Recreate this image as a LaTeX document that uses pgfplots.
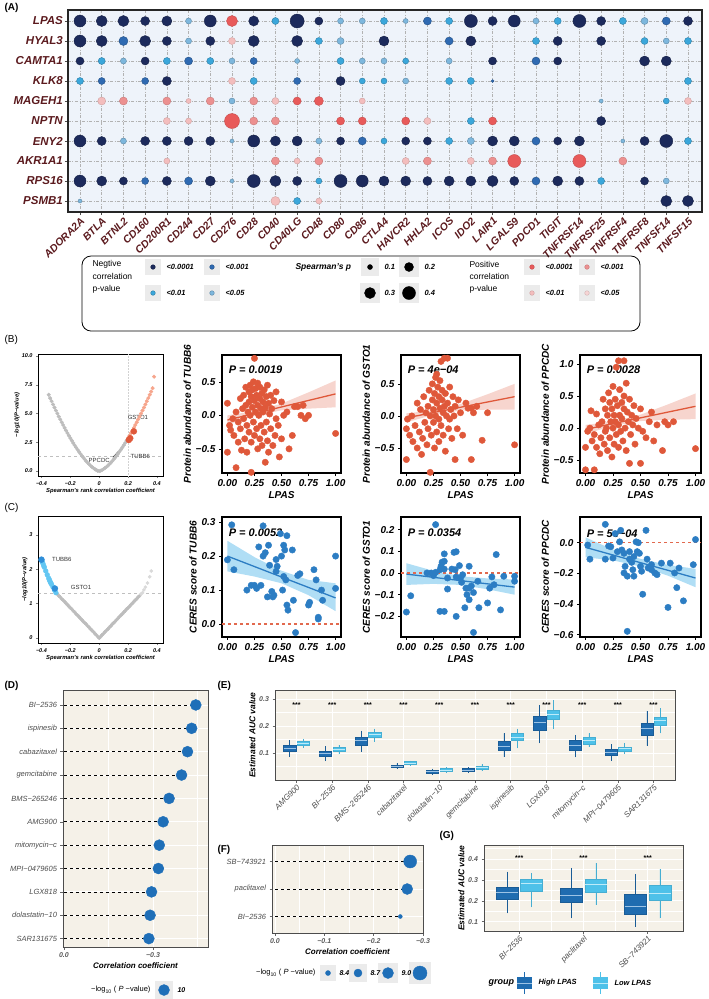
\documentclass[border=0pt]{standalone}
\usepackage{pgfplots}
\pgfplotsset{compat=1.18}
\usepgfplotslibrary{statistics}
\usepackage{fontspec}
\setmainfont{Liberation Sans}
\newcommand{\fs}[1]{\fontsize{#1}{#1}\selectfont}
\definecolor{N1}{HTML}{1C2A5C}
\definecolor{N2}{HTML}{2F6AB2}
\definecolor{N3}{HTML}{3BA7DB}
\definecolor{N4}{HTML}{7DB7DD}
\definecolor{P1}{HTML}{E85A5A}
\definecolor{P2}{HTML}{EC9090}
\definecolor{P3}{HTML}{F3BDBD}
\definecolor{P4}{HTML}{F6D4D4}
\definecolor{bgA}{HTML}{EEF3FA}
\definecolor{labR}{HTML}{5B1A1E}
\definecolor{bOr}{HTML}{DF583A}
\definecolor{cBl}{HTML}{2C7DC3}
\definecolor{cBand}{HTML}{7CC8EE}
\definecolor{vGray}{HTML}{BDBDBD}
\definecolor{vSal}{HTML}{F6A58C}
\definecolor{vLB}{HTML}{62C6F2}
\definecolor{vDB}{HTML}{2F8ED8}
\definecolor{bgB}{HTML}{F5F1E8}
\definecolor{dBl}{HTML}{1F6FB8}
\definecolor{HiB}{HTML}{1F6CB0}
\definecolor{HiM}{HTML}{9CC3E6}
\definecolor{LoB}{HTML}{4EC1E9}
\definecolor{LoM}{HTML}{BDEBF9}
\definecolor{keyg}{HTML}{EBEBEB}
\pgfplotsset{
  /pgf/number format/assume math mode=true,
  dotA/.style={scatter, only marks, mark=*, scatter src=explicit symbolic,
    scatter/classes={N1={mark=*,fill=N1,draw=N1!75!black}, N2={mark=*,fill=N2,draw=N2!75!black},
      N3={mark=*,fill=N3,draw=N3!75!black}, N4={mark=*,fill=N4,draw=N4!75!black},
      P1={mark=*,fill=P1,draw=P1!85!black}, P2={mark=*,fill=P2,draw=P2!85!black},
      P3={mark=*,fill=P3,draw=P3!85!black}, P4={mark=*,fill=P4,draw=P4!85!black},
      K={mark=*,fill=black,draw=black}, D={mark=*,fill=dBl,draw=dBl}},
    visualization depends on={\thisrow{s}\as\msz},
    scatter/@pre marker code/.append style={/tikz/mark size=\msz, /tikz/line width=0.3pt}},
  sc/.style={anchor=north west, scale only axis, axis line style={line width=1.4pt},
    xmin=-0.05, xmax=1.05, xtick={0,0.25,0.5,0.75,1}, xticklabels={0.00,0.25,0.50,0.75,1.00},
    tick align=outside, tick pos=left, major tick length=3pt, tick style={black, line width=0.6pt},
    ticklabel style={font=\fs{10}\bfseries\itshape}, xlabel={LPAS},
    label style={font=\fs{10}\bfseries\itshape}, xlabel style={yshift=2pt}, ylabel style={yshift=-2pt}},
  vc/.style={anchor=north west, scale only axis, width=125pt, axis line style={line width=0.6pt},
    xmin=-0.424, xmax=0.442, xtick={-0.4,-0.2,0,0.2,0.4}, xticklabels={−0.4,−0.2,0,0.2,0.4},
    tick align=outside, tick pos=left, major tick length=2pt, tick style={line width=0.4pt},
    ticklabel style={font=\fs{5.5}\bfseries\itshape}, label style={font=\fs{5.8}\bfseries\itshape},
    xlabel={Spearman's rank correlation coefficient}, ylabel={−log10(P−value)},
    xlabel style={yshift=4pt}, ylabel style={yshift=-5pt}},
  gg/.style={anchor=north west, scale only axis, axis background/.style={fill=bgB},
    axis line style={black!70, line width=0.7pt}, tick align=outside, tick pos=left,
    major tick length=2.5pt, minor tick length=0pt, tick style={black!60, line width=0.5pt},
    ticklabel style={font=\fs{7}\bfseries\itshape, text=black!65},
    label style={font=\fs{8}\bfseries\itshape}, grid=both,
    major grid style={white, line width=0.8pt}, minor grid style={white, line width=0.4pt}},
  hi/.style={draw=HiB!85!black, fill=HiB, boxplot/every median/.style={draw=HiM, line width=0.8pt}},
  lo/.style={draw=LoB!90!black, fill=LoB, boxplot/every median/.style={draw=LoM, line width=0.8pt}},
}
\begin{document}
\begin{tikzpicture}
\useasboundingbox (0pt,0pt) rectangle (709pt,-999pt);

% ================= Panel A
\begin{axis}[at={(68pt,-10pt)}, anchor=north west, scale only axis, width=634pt, height=202pt,
  xmin=-0.553, xmax=28.645, ymin=-0.55, ymax=9.55, y dir=reverse,
  axis background/.style={fill=bgA}, axis line style={line width=1.2pt, black!85},
  xtick={0,...,28}, ytick={0,...,9}, tick pos=left, tick align=outside, major tick length=3pt,
  tick style={black!70, line width=0.5pt},
  xticklabels={ADORA2A,BTLA,BTNL2,CD160,CD200R1,CD244,CD27,CD276,CD28,CD40,CD40LG,CD48,CD80,CD86,CTLA4,HAVCR2,HHLA2,ICOS,IDO2,LAIR1,LGALS9,PDCD1,TIGIT,TNFRSF14,TNFRSF25,TNFRSF4,TNFRSF8,TNFSF14,TNFSF15},
  yticklabels={LPAS,HYAL3,CAMTA1,KLK8,MAGEH1,NPTN,ENY2,AKR1A1,RPS16,PSMB1},
  xticklabel style={rotate=45, anchor=north east, font=\fs{10.5}\bfseries\itshape, text=labR, inner sep=1pt},
  yticklabel style={font=\fs{11.5}\bfseries\itshape, text=labR, inner sep=2pt},
  grid=major, major grid style={black!30, line width=0.45pt, dash pattern=on 3pt off 1.5pt on 1pt off 1.5pt}]
\addplot[dotA] table[x=x,y=y,meta=c] {
x y s c
0 0 6 N1
1 0 5.5 N1
2 0 5.5 N1
3 0 4.5 N1
4 0 5 N1
5 0 3 N4
6 0 6 N1
7 0 5.5 P1
8 0 5 N1
9 0 3.5 N3
10 0 7 N1
11 0 4 N1
12 0 3 N4
13 0 3 N4
14 0 3.5 N3
15 0 2.5 N4
16 0 4 N2
17 0 3.5 N3
18 0 6.5 N1
19 0 4.5 N1
20 0 6 N1
21 0 3 N4
22 0 3.5 N3
23 0 6.5 N1
24 0 4.5 N1
25 0 3.5 N3
26 0 3.5 N4
27 0 4 N2
28 0 4.5 N1
0 1 6 N1
1 1 5.5 N1
2 1 4.5 N2
3 1 5.5 N1
4 1 4.5 N1
5 1 3 N4
6 1 4.5 N1
7 1 3.5 P3
8 1 5.5 N1
10 1 5.5 N1
11 1 3.5 N3
12 1 3.5 N4
14 1 5 N1
17 1 4 N2
18 1 5 N1
21 1 3.5 N3
22 1 4.5 N1
24 1 4.5 N1
26 1 3.5 N3
27 1 3 N4
28 1 3.5 N3
0 2 4 N1
1 2 3.5 N3
2 2 3 N4
3 2 4 N1
4 2 3.5 N3
5 2 4 N2
6 2 3.5 N3
7 2 3 N4
8 2 3.5 N2
10 2 2.5 N4
12 2 3.5 N3
13 2 3 N4
14 2 3 N4
15 2 3 N3
17 2 3 N4
19 2 4 N1
21 2 4 N2
22 2 4 N1
26 2 5 N1
27 2 5 N1
0 3 3.5 N3
1 3 3.5 N2
3 3 3.5 N2
4 3 4.5 N1
7 3 3.5 P3
8 3 3.5 N3
10 3 3.5 N2
12 3 4.5 N1
13 3 3 N3
14 3 3 N3
15 3 3 N4
17 3 3.5 N3
18 3 3.5 N3
19 3 1.5 N2
28 3 3.5 N3
1 4 4 P3
2 4 4 P2
4 4 4 P2
5 4 2.5 P3
6 4 4 P2
7 4 3 N4
8 4 4 P2
9 4 3.5 P3
10 4 4 P1
11 4 4.5 P1
13 4 3 P3
24 4 2 N4
27 4 3 N3
28 4 3.5 P3
4 5 3.5 P3
5 5 3 P3
7 5 7.5 P1
8 5 4 P2
9 5 4 P2
12 5 4 P1
13 5 4 P1
15 5 4 P1
16 5 3.5 P3
18 5 3.5 N3
19 5 4 P1
24 5 4.5 N1
0 6 6 N1
1 6 4.5 N1
2 6 3 N4
3 6 4.5 N1
4 6 4.5 N1
5 6 4.5 N1
6 6 4.5 N1
7 6 2 N4
8 6 6 N1
9 6 5 N1
10 6 5 N1
11 6 3 N4
12 6 4 N1
13 6 4 N2
14 6 3 N3
15 6 4 N1
16 6 4 N1
17 6 3.5 N3
18 6 3.5 N4
19 6 5 N1
20 6 5 N1
21 6 4 N2
22 6 4 N1
23 6 5 N1
25 6 2 N4
26 6 4.5 N1
27 6 6.5 N1
28 6 3.5 N3
4 7 3 P3
9 7 4 P2
10 7 3 P3
11 7 4 P2
15 7 3.5 P3
16 7 4 P2
18 7 3.5 P3
19 7 4 P2
20 7 6.5 P1
23 7 6.5 P1
25 7 4 P2
0 8 6 N1
1 8 5 N1
2 8 4 N1
3 8 3.5 N2
4 8 4.5 N1
5 8 4 N2
6 8 5 N1
7 8 2 N4
8 8 6.5 N1
9 8 5.5 N1
10 8 4.5 N1
11 8 3 N3
12 8 6.5 N1
13 8 6 N1
14 8 5 N1
15 8 5 N1
16 8 4.5 N1
17 8 5 N1
18 8 5 N1
19 8 5.5 N1
20 8 4.5 N1
21 8 4 N2
22 8 5 N1
23 8 4.5 N1
24 8 3.5 N3
26 8 4 N1
27 8 3 N4
0 9 2 N4
9 9 4.5 P3
10 9 3.5 N3
11 9 3 P3
27 9 5.5 N1
28 9 5.5 N1
};
\end{axis}

% ================= Panel B volcano
\begin{axis}[vc, at={(38pt,-354pt)}, height=122pt, ymin=-0.43, ymax=10.17,
  ytick={0,2.5,5,7.5,10}, yticklabels={0.0,2.5,5.0,7.5,10.0}]
\addplot[gray!50, dashed, line width=0.6pt] coordinates {(-0.424,1.3) (0.442,1.3)};
\addplot[gray!35, densely dotted, line width=0.5pt] coordinates {(0.2,-0.43) (0.2,10.17)};
\addplot[only marks, mark=*, mark size=1.8pt, vGray] coordinates {
(-0.35,6.63) (-0.34,6.34) (-0.33,6.07) (-0.32,5.79) (-0.31,5.52) (-0.30,5.26) (-0.29,5.00) (-0.28,4.74)
(-0.27,4.49) (-0.26,4.24) (-0.25,4.00) (-0.24,3.76) (-0.23,3.53) (-0.22,3.30) (-0.21,3.08) (-0.20,2.86)
(-0.19,2.65) (-0.18,2.44) (-0.17,2.24) (-0.16,2.05) (-0.15,1.86) (-0.14,1.68) (-0.13,1.50) (-0.12,1.33)
(-0.11,1.17) (-0.10,1.01) (-0.09,0.86) (-0.08,0.72) (-0.07,0.59) (-0.06,0.47) (-0.05,0.36) (-0.04,0.26)
(-0.03,0.17) (-0.02,0.09) (-0.01,0.03) (0,0) (0.01,0.03) (0.02,0.09) (0.03,0.17) (0.04,0.26) (0.05,0.36)
(0.06,0.47) (0.07,0.59) (0.08,0.72) (0.09,0.86) (0.10,1.01) (0.11,1.17) (0.12,1.33) (0.13,1.50)
(0.14,1.68) (0.15,1.86) (0.16,2.05) (0.17,2.24) (0.18,2.44) (0.19,2.65)};
\addplot[only marks, mark=*, mark size=1.8pt, vSal] coordinates {
(0.20,2.86) (0.21,3.08) (0.22,3.30) (0.23,3.53) (0.24,3.76) (0.25,4.00) (0.26,4.24) (0.27,4.49)
(0.28,4.74) (0.29,5.00) (0.30,5.26) (0.31,5.52) (0.32,5.79) (0.33,6.07) (0.34,6.34) (0.35,6.63)
(0.36,6.91) (0.37,7.20) (0.38,8.20)};
\addplot[only marks, mark=*, mark size=3pt, bOr] coordinates {(0.205,2.70) (0.215,2.85) (0.24,3.45)};
\addplot[black, line width=0.5pt] coordinates {(0.095,1.2) (0.135,1.75)};
\node[font=\fs{6}, text=black!80] at (axis cs:0.268,4.63) {GSTO1};
\node[font=\fs{6}, text=black!80] at (axis cs:0.285,1.3) {TUBB6};
\node[font=\fs{6}, text=black!80] at (axis cs:0.0,0.95) {PPCDC};
\end{axis}

% ================= Panel B scatters
\begin{axis}[sc, at={(222pt,-355pt)}, width=119pt, height=118pt, ymin=-0.86, ymax=0.9,
  ytick={-0.5,0,0.5}, yticklabels={−0.5,0.0,0.5}, ylabel={Protein abundance of TUBB6}]
\addplot[only marks, mark=*, mark size=3.2pt, bOr] coordinates {
(0.00,0.18)(0.00,-0.55)(0.02,-0.15)(0.03,-0.22)(0.05,-0.05)(0.06,-0.3)(0.08,-0.78)(0.08,0.05)(0.10,-0.1)(0.10,-0.4)
(0.12,0.25)(0.12,-0.2)(0.13,-0.52)(0.14,0.1)(0.15,0.3)(0.15,-0.05)(0.16,-0.35)(0.17,0.42)(0.17,0.15)(0.18,-0.15)
(0.18,-0.55)(0.19,0.05)(0.2,0.35)(0.2,0.2)(0.2,-0.25)(0.21,0.45)(0.21,0.0)(0.22,-0.85)(0.22,0.28)(0.22,-0.4)
(0.23,0.12)(0.23,0.38)(0.24,-0.1)(0.24,0.5)(0.25,0.85)(0.25,0.22)(0.25,-0.3)(0.26,0.05)(0.26,0.4)(0.27,0.3)
(0.27,-0.2)(0.28,0.15)(0.28,0.48)(0.28,-0.5)(0.29,0.0)(0.3,0.25)(0.3,-0.35)(0.3,0.42)(0.31,0.1)(0.31,-0.15)
(0.32,0.33)(0.32,-0.45)(0.33,0.2)(0.33,0.05)(0.34,-0.25)(0.34,0.38)(0.35,-0.7)(0.35,0.12)(0.36,0.28)(0.36,-0.1)
(0.37,0.45)(0.37,-0.38)(0.38,0.18)(0.38,-0.55)(0.39,0.02)(0.4,0.3)(0.4,-0.2)(0.41,0.1)(0.42,-0.45)(0.43,0.22)
(0.44,-0.3)(0.45,0.35)(0.45,-0.05)(0.47,-0.15)(0.48,-0.62)(0.5,0.2)(0.5,-0.35)(0.52,0.0)(0.55,0.05)(0.57,-0.5)
(0.6,-0.3)(0.62,0.13)(0.65,0.13)(0.68,0.0)(0.7,0.15)(0.72,-0.05)(0.75,0.0)(1.0,-0.27)};
\addplot[fill=bOr, fill opacity=0.25, draw=none] coordinates {(0,0.0) (0.25,0.063) (0.5,0.175) (0.75,0.343) (1,0.52) (1,0.12) (0.75,0.1) (0.5,0.075) (0.25,-0.008) (0,-0.14)};
\addplot[bOr, line width=1.3pt] coordinates {(0,-0.07) (1,0.32)};
\node[anchor=west, font=\fs{11}\bfseries\itshape] at (axis cs:-0.02,0.68) {P = 0.0019};
\end{axis}

\begin{axis}[sc, at={(401pt,-355pt)}, width=119pt, height=118pt, ymin=-0.89, ymax=0.95,
  ytick={-0.5,0,0.5}, yticklabels={−0.5,0.0,0.5}, ylabel={Protein abundance of GSTO1}]
\addplot[only marks, mark=*, mark size=3.2pt, bOr] coordinates {
(0.00,-0.2)(0.00,-0.68)(0.01,-0.05)(0.03,-0.3)(0.05,0.0)(0.06,-0.4)(0.08,-0.15)(0.1,0.2)(0.1,-0.5)(0.12,-0.25)
(0.13,0.1)(0.14,-0.6)(0.15,-0.35)(0.16,0.3)(0.17,-0.1)(0.18,0.05)(0.19,-0.45)(0.2,0.15)(0.2,-0.2)(0.21,0.4)
(0.22,-0.88)(0.22,0.0)(0.23,-0.3)(0.24,0.25)(0.24,0.5)(0.25,-0.1)(0.25,0.1)(0.26,-0.5)(0.26,0.35)(0.27,0.6)
(0.27,0.0)(0.28,0.65)(0.28,-0.25)(0.28,0.2)(0.29,0.45)(0.3,-0.05)(0.3,0.3)(0.3,-0.4)(0.31,0.12)(0.31,0.55)
(0.32,0.85)(0.32,-0.15)(0.33,0.25)(0.33,0.4)(0.34,-0.3)(0.34,0.05)(0.35,0.9)(0.35,0.15)(0.36,-0.55)(0.36,0.35)
(0.37,0.0)(0.38,0.9)(0.38,0.2)(0.39,-0.2)(0.4,0.45)(0.4,-0.05)(0.41,0.1)(0.42,-0.35)(0.43,0.3)(0.44,0.0)
(0.45,-0.68)(0.45,0.15)(0.47,-0.2)(0.48,0.25)(0.5,0.05)(0.52,-0.3)(0.55,0.2)(0.57,0.12)(0.6,0.12)(0.6,-0.68)
(0.62,0.05)(0.65,0.15)(0.7,-0.38)(0.75,0.05)(1.0,-0.45)};
\addplot[fill=bOr, fill opacity=0.25, draw=none] coordinates {(0,0.04) (0.25,0.088) (0.5,0.185) (0.75,0.338) (1,0.5) (1,0.1) (0.75,0.098) (0.5,0.085) (0.25,0.018) (0,-0.1)};
\addplot[bOr, line width=1.3pt] coordinates {(0,-0.03) (1,0.30)};
\node[anchor=west, font=\fs{11}\bfseries\itshape] at (axis cs:-0.02,0.72) {P = 4e−04};
\end{axis}

\begin{axis}[sc, at={(580pt,-355pt)}, width=121pt, height=118pt, ymin=-0.7, ymax=1.14,
  ytick={-0.5,0,0.5,1}, yticklabels={−0.5,0.0,0.5,1.0}, ylabel={Protein abundance of PPCDC}]
\addplot[only marks, mark=*, mark size=3.2pt, bOr] coordinates {
(0.00,-0.65)(0.00,-0.3)(0.02,-0.05)(0.04,0.0)(0.05,0.27)(0.06,-0.2)(0.08,-0.65)(0.08,-0.1)(0.1,0.22)(0.1,-0.3)
(0.12,0.05)(0.13,-0.4)(0.14,-0.15)(0.15,0.1)(0.16,0.45)(0.17,-0.25)(0.18,0.3)(0.18,-0.05)(0.19,0.0)(0.2,0.2)
(0.2,-0.35)(0.21,0.55)(0.22,-0.15)(0.22,0.4)(0.23,0.1)(0.24,-0.45)(0.24,0.3)(0.25,0.65)(0.25,0.0)(0.26,0.2)
(0.26,-0.25)(0.27,0.45)(0.27,0.1)(0.28,0.95)(0.28,-0.1)(0.29,0.35)(0.3,1.05)(0.3,0.05)(0.3,-0.3)(0.31,0.6)
(0.31,0.2)(0.32,-0.05)(0.33,0.4)(0.33,0.15)(0.34,-0.2)(0.35,1.05)(0.35,0.3)(0.35,0.5)(0.36,0.0)(0.37,0.7)
(0.37,-0.35)(0.38,0.25)(0.39,0.1)(0.4,-0.55)(0.4,0.45)(0.41,-0.1)(0.42,0.2)(0.43,0.05)(0.44,0.35)(0.45,-0.25)
(0.46,0.15)(0.48,0.0)(0.5,-0.55)(0.5,0.3)(0.52,-0.05)(0.55,-0.15)(0.58,0.1)(0.6,0.25)(0.62,-0.2)(0.65,0.05)
(0.7,-0.35)(0.72,0.1)(0.75,0.05)(0.8,0.1)(1.0,-0.32)};
\addplot[fill=bOr, fill opacity=0.25, draw=none] coordinates {(0,0.05) (0.25,0.105) (0.5,0.21) (0.75,0.37) (1,0.54) (1,0.14) (0.75,0.13) (0.5,0.11) (0.25,0.035) (0,-0.09)};
\addplot[bOr, line width=1.3pt] coordinates {(0,-0.02) (1,0.34)};
\node[anchor=west, font=\fs{11}\bfseries\itshape] at (axis cs:-0.02,0.91) {P = 0.0028};
\end{axis}

% ================= Panel C volcano
\begin{axis}[vc, at={(38pt,-516pt)}, height=127pt, ymin=-0.145, ymax=3.55,
  ytick={0,1,2,3}, yticklabels={0,1,2,3}]
\addplot[gray!50, dashed, line width=0.6pt] coordinates {(-0.424,1.3) (0.442,1.3)};
\addplot[only marks, mark=*, mark size=1.8pt, vGray] coordinates {
(-0.29,1.28) (-0.28,1.23) (-0.27,1.19) (-0.26,1.14) (-0.25,1.10) (-0.24,1.06) (-0.23,1.01) (-0.22,0.97)
(-0.21,0.92) (-0.20,0.88) (-0.19,0.84) (-0.18,0.79) (-0.17,0.75) (-0.16,0.70) (-0.15,0.66) (-0.14,0.62)
(-0.13,0.57) (-0.12,0.53) (-0.11,0.48) (-0.10,0.44) (-0.09,0.40) (-0.08,0.35) (-0.07,0.31) (-0.06,0.26)
(-0.05,0.22) (-0.04,0.18) (-0.03,0.13) (-0.02,0.09) (-0.01,0.04) (0,0) (0.01,0.04) (0.02,0.09) (0.03,0.13)
(0.04,0.18) (0.05,0.22) (0.06,0.26) (0.07,0.31) (0.08,0.35) (0.09,0.40) (0.10,0.44) (0.11,0.48) (0.12,0.53)
(0.13,0.57) (0.14,0.62) (0.15,0.66) (0.16,0.70) (0.17,0.75) (0.18,0.79) (0.19,0.84) (0.20,0.88) (0.21,0.92)
(0.22,0.97) (0.23,1.01) (0.24,1.06) (0.25,1.10) (0.26,1.14) (0.27,1.19) (0.28,1.23)};
\addplot[only marks, mark=*, mark size=1.6pt, gray!30] coordinates {
(0.29,1.28) (0.30,1.32) (0.31,1.40) (0.32,1.48) (0.335,1.60) (0.35,1.78) (0.36,1.95)};
\addplot[only marks, mark=*, mark size=2.4pt, vLB] coordinates {
(-0.395,2.22) (-0.39,2.17) (-0.385,2.11) (-0.38,2.06) (-0.37,1.95) (-0.36,1.84) (-0.35,1.74) (-0.345,1.69)
(-0.34,1.64) (-0.335,1.60) (-0.33,1.56) (-0.32,1.48) (-0.31,1.40) (-0.30,1.32)};
\addplot[only marks, mark=*, mark size=3pt, vDB] coordinates {(-0.40,2.28) (-0.307,1.44)};
\node[anchor=west, font=\fs{6}, text=black!80] at (axis cs:-0.35,2.3) {TUBB6};
\node[anchor=west, font=\fs{6}, text=black!80] at (axis cs:-0.22,1.46) {GSTO1};
\end{axis}

% ================= Panel C scatters
\begin{axis}[sc, at={(222pt,-517pt)}, width=119pt, height=120pt, ymin=-0.038, ymax=0.315,
  ytick={0,0.1,0.2,0.3}, yticklabels={0.0,0.1,0.2,0.3}, ylabel={CERES score of TUBB6}]
\addplot[only marks, mark=*, mark size=3.2pt, cBl] coordinates {
(0,0.189)(0.04,0.292)(0.33,0.289)(0.49,0.266)(0.06,0.16)(0.18,0.1)(0.25,0.114)(0.31,0.114)(0.29,0.227)(0.33,0.2)
(0.35,0.21)(0.38,0.232)(0.39,0.173)(0.41,0.096)(0.42,0.08)(0.37,0.08)(0.43,0.085)(0.45,0.19)(0.46,0.17)(0.45,0.155)
(0.5,0.2)(0.52,0.232)(0.53,0.218)(0.52,0.14)(0.51,0.1)(0.54,0.13)(0.55,0.056)(0.56,0.041)(0.6,0.218)(0.61,0.07)
(0.63,-0.025)(0.65,0.143)(0.67,0.148)(0.75,0.056)(0.76,0.064)(0.8,0.16)(0.82,0.13)(0.84,0.02)(0.84,0.015)(0.87,0.1)
(0.88,0.07)(1.0,0.2)(1.0,0.105)(0.55,0.26)(0.27,0.105)(0.22,0.114)};
\addplot[fill=cBand, fill opacity=0.6, draw=none] coordinates {(0,0.245) (0.25,0.197) (0.5,0.157) (0.75,0.13) (1,0.12) (1,0.038) (0.75,0.085) (0.5,0.12) (0.25,0.14) (0,0.155)};
\addplot[cBl, line width=1.3pt] coordinates {(0,0.2) (1,0.077)};
\addplot[bOr!90, dashed, line width=1.2pt] coordinates {(-0.05,0) (1.05,0)};
\node[anchor=west, font=\fs{11}\bfseries\itshape] at (axis cs:-0.02,0.268) {P = 0.0052};
\end{axis}

\begin{axis}[sc, at={(401pt,-517pt)}, width=119pt, height=120pt, ymin=-0.295, ymax=0.258,
  ytick={-0.2,-0.1,0,0.1,0.2}, yticklabels={−0.2,−0.1,0.0,0.1,0.2}, ylabel={CERES score of GSTO1}]
\addplot[only marks, mark=*, mark size=3.2pt, cBl] coordinates {
(0,-0.18)(0.04,-0.105)(0.27,0.223)(0.23,0.0)(0.19,0)(0.31,0.015)(0.32,0.031)(0.33,0.05)(0.35,0.088)(0.35,0.054)
(0.35,0.018)(0.38,-0.023)(0.35,-0.177)(0.38,-0.074)(0.42,0.018)(0.44,0.095)(0.46,0.098)(0.45,0.015)(0.46,-0.018)
(0.46,-0.2)(0.49,0.034)(0.5,-0.023)(0.51,-0.043)(0.52,-0.008)(0.54,-0.16)(0.55,-0.07)(0.56,-0.1)(0.58,-0.123)
(0.58,0.031)(0.58,-0.07)(0.6,-0.06)(0.62,-0.09)(0.62,-0.274)(0.66,-0.038)(0.67,-0.16)(0.75,-0.138)(0.77,-0.07)
(0.79,-0.018)(0.83,0.085)(0.81,-0.054)(0.87,-0.17)(0.9,-0.015)(1.0,-0.015)(1.0,-0.038)(0.31,-0.177)(0.27,0.003)(0.25,-0.012)};
\addplot[fill=cBand, fill opacity=0.6, draw=none] coordinates {(0,0.045) (0.25,0.01) (0.5,-0.015) (0.75,-0.025) (1,-0.03) (1,-0.1) (0.75,-0.075) (0.5,-0.055) (0.25,-0.05) (0,-0.055)};
\addplot[cBl, line width=1.3pt] coordinates {(0,-0.005) (1,-0.065)};
\addplot[bOr!90, dashed, line width=1.2pt] coordinates {(-0.05,0) (1.05,0)};
\node[anchor=west, font=\fs{11}\bfseries\itshape] at (axis cs:-0.02,0.184) {P = 0.0354};
\end{axis}

\begin{axis}[sc, at={(580pt,-517pt)}, width=121pt, height=120pt, ymin=-0.615, ymax=0.168,
  ytick={-0.6,-0.4,-0.2,0}, yticklabels={−0.6,−0.4,−0.2,0.0}, ylabel={CERES score of PPCDC}]
\addplot[only marks, mark=*, mark size=3.2pt, cBl] coordinates {
(0.02,-0.015)(0.04,-0.107)(0.18,0.12)(0.18,-0.107)(0.21,-0.021)(0.23,-0.026)(0.27,0.06)(0.31,0.006)(0.32,0.081)
(0.33,-0.047)(0.35,-0.069)(0.35,-0.197)(0.36,-0.154)(0.38,-0.218)(0.38,-0.578)(0.4,-0.107)(0.4,-0.058)(0.42,-0.128)
(0.43,-0.176)(0.44,-0.218)(0.46,0.006)(0.48,0.0)(0.47,-0.058)(0.49,-0.069)(0.5,-0.154)(0.51,-0.186)(0.52,-0.336)
(0.55,0.081)(0.56,-0.107)(0.57,-0.165)(0.6,-0.143)(0.6,-0.176)(0.63,-0.197)(0.65,-0.208)(0.69,-0.133)(0.75,-0.422)
(0.77,-0.133)(0.81,-0.197)(0.83,-0.293)(0.85,-0.165)(0.89,-0.379)(0.98,-0.143)(1.0,0.021)(0.25,-0.1)(0.29,-0.058)(0.44,-0.09)};
\addplot[fill=cBand, fill opacity=0.6, draw=none] coordinates {(0,0.035) (0.25,-0.045) (0.5,-0.105) (0.75,-0.145) (1,-0.17) (1,-0.29) (0.75,-0.215) (0.5,-0.155) (0.25,-0.115) (0,-0.095)};
\addplot[cBl, line width=1.3pt] coordinates {(0,-0.03) (1,-0.23)};
\addplot[bOr!90, dashed, line width=1.2pt] coordinates {(-0.05,0) (1.05,0)};
\node[anchor=west, font=\fs{11}\bfseries\itshape] at (axis cs:-0.02,0.056) {P = 5e−04};
\end{axis}

% ================= Panel D
\begin{axis}[gg, at={(63pt,-690pt)}, width=145pt, height=257pt,
  x dir=reverse, xmin=-0.485, xmax=0.003, ymin=-0.64, ymax=10.36, y dir=reverse,
  xtick={0,-0.3}, xticklabels={0.0,−0.3}, minor xtick={-0.15,-0.45},
  ytick={0,...,10}, yticklabels={BI−2536,ispinesib,cabazitaxel,gemcitabine,BMS−265246,AMG900,mitomycin−c,MPI−0479605,LGX818,dolastatin−10,SAR131675},
  yticklabel style={font=\fs{7.5}\itshape, text=black!70},
  xlabel={Correlation coefficient}, xlabel style={yshift=2pt}]
\addplot[xcomb, black, dashed, line width=0.6pt] coordinates {
(-0.444,0) (-0.43,1) (-0.416,2) (-0.396,3) (-0.354,4) (-0.334,5) (-0.321,6) (-0.318,7) (-0.295,8) (-0.29,9) (-0.286,10)};
\addplot[only marks, mark=*, mark size=5.5pt, dBl] coordinates {
(-0.444,0) (-0.43,1) (-0.416,2) (-0.396,3) (-0.354,4) (-0.334,5) (-0.321,6) (-0.318,7) (-0.295,8) (-0.29,9) (-0.286,10)};
\end{axis}

% ================= Panel E
\begin{axis}[gg, at={(275pt,-690pt)}, width=400pt, height=90pt,
  xmin=-0.6, xmax=10.6, ymin=0, ymax=0.333, boxplot/draw direction=y,
  xtick={0,...,10}, xticklabels={AMG900,BI−2536,BMS−265246,cabazitaxel,dolastatin−10,gemcitabine,ispinesib,LGX818,mitomycin−c,MPI−0479605,SAR131675},
  xticklabel style={rotate=45, anchor=north east, font=\fs{8}\itshape, text=black!70, inner sep=1pt},
  ytick={0.1,0.2,0.3}, yticklabels={0.1,0.2,0.3}, minor ytick={0.05,0.15,0.25},
  ylabel={Estimated AUC value}, ylabel style={font=\fs{8.5}\bfseries\itshape, yshift=-3pt}]
\addplot[hi, boxplot prepared={draw position=-0.19, lower whisker=0.085, lower quartile=0.108, median=0.117, upper quartile=0.13, upper whisker=0.148, box extend=0.34, whisker extend=0}] coordinates {};
\addplot[lo, boxplot prepared={draw position=0.19, lower whisker=0.12, lower quartile=0.13, median=0.137, upper quartile=0.144, upper whisker=0.152, box extend=0.34, whisker extend=0}] coordinates {};
\addplot[hi, boxplot prepared={draw position=0.81, lower whisker=0.07, lower quartile=0.088, median=0.097, upper quartile=0.107, upper whisker=0.125, box extend=0.34, whisker extend=0}] coordinates {};
\addplot[lo, boxplot prepared={draw position=1.19, lower whisker=0.095, lower quartile=0.105, median=0.113, upper quartile=0.12, upper whisker=0.13, box extend=0.34, whisker extend=0}] coordinates {};
\addplot[hi, boxplot prepared={draw position=1.81, lower whisker=0.105, lower quartile=0.13, median=0.145, upper quartile=0.16, upper whisker=0.183, box extend=0.34, whisker extend=0}] coordinates {};
\addplot[lo, boxplot prepared={draw position=2.19, lower whisker=0.142, lower quartile=0.157, median=0.168, upper quartile=0.177, upper whisker=0.19, box extend=0.34, whisker extend=0}] coordinates {};
\addplot[hi, boxplot prepared={draw position=2.81, lower whisker=0.042, lower quartile=0.047, median=0.051, upper quartile=0.055, upper whisker=0.062, box extend=0.34, whisker extend=0}] coordinates {};
\addplot[lo, boxplot prepared={draw position=3.19, lower whisker=0.052, lower quartile=0.057, median=0.062, upper quartile=0.068, upper whisker=0.072, box extend=0.34, whisker extend=0}] coordinates {};
\addplot[hi, boxplot prepared={draw position=3.81, lower whisker=0.02, lower quartile=0.025, median=0.031, upper quartile=0.037, upper whisker=0.042, box extend=0.34, whisker extend=0}] coordinates {};
\addplot[lo, boxplot prepared={draw position=4.19, lower whisker=0.028, lower quartile=0.031, median=0.037, upper quartile=0.043, upper whisker=0.047, box extend=0.34, whisker extend=0}] coordinates {};
\addplot[hi, boxplot prepared={draw position=4.81, lower whisker=0.026, lower quartile=0.031, median=0.036, upper quartile=0.043, upper whisker=0.047, box extend=0.34, whisker extend=0}] coordinates {};
\addplot[lo, boxplot prepared={draw position=5.19, lower whisker=0.033, lower quartile=0.04, median=0.046, upper quartile=0.052, upper whisker=0.058, box extend=0.34, whisker extend=0}] coordinates {};
\addplot[hi, boxplot prepared={draw position=5.81, lower whisker=0.086, lower quartile=0.111, median=0.123, upper quartile=0.142, upper whisker=0.173, box extend=0.34, whisker extend=0}] coordinates {};
\addplot[lo, boxplot prepared={draw position=6.19, lower whisker=0.117, lower quartile=0.146, median=0.158, upper quartile=0.173, upper whisker=0.19, box extend=0.34, whisker extend=0}] coordinates {};
\addplot[hi, boxplot prepared={draw position=6.81, lower whisker=0.136, lower quartile=0.185, median=0.214, upper quartile=0.237, upper whisker=0.278, box extend=0.34, whisker extend=0}] coordinates {};
\addplot[lo, boxplot prepared={draw position=7.19, lower whisker=0.189, lower quartile=0.226, median=0.244, upper quartile=0.259, upper whisker=0.296, box extend=0.34, whisker extend=0}] coordinates {};
\addplot[hi, boxplot prepared={draw position=7.81, lower whisker=0.084, lower quartile=0.111, median=0.128, upper quartile=0.146, upper whisker=0.167, box extend=0.34, whisker extend=0}] coordinates {};
\addplot[lo, boxplot prepared={draw position=8.19, lower whisker=0.123, lower quartile=0.133, median=0.146, upper quartile=0.157, upper whisker=0.173, box extend=0.34, whisker extend=0}] coordinates {};
\addplot[hi, boxplot prepared={draw position=8.81, lower whisker=0.072, lower quartile=0.093, median=0.104, upper quartile=0.114, upper whisker=0.133, box extend=0.34, whisker extend=0}] coordinates {};
\addplot[lo, boxplot prepared={draw position=9.19, lower whisker=0.096, lower quartile=0.107, median=0.116, upper quartile=0.123, upper whisker=0.137, box extend=0.34, whisker extend=0}] coordinates {};
\addplot[hi, boxplot prepared={draw position=9.81, lower whisker=0.127, lower quartile=0.167, median=0.19, upper quartile=0.21, upper whisker=0.256, box extend=0.34, whisker extend=0}] coordinates {};
\addplot[lo, boxplot prepared={draw position=10.19, lower whisker=0.173, lower quartile=0.204, median=0.219, upper quartile=0.232, upper whisker=0.265, box extend=0.34, whisker extend=0}] coordinates {};
\node[font=\fs{7}\bfseries] at (axis cs:0,0.276) {***};
\node[font=\fs{7}\bfseries] at (axis cs:1,0.276) {***};
\node[font=\fs{7}\bfseries] at (axis cs:2,0.276) {***};
\node[font=\fs{7}\bfseries] at (axis cs:3,0.276) {***};
\node[font=\fs{7}\bfseries] at (axis cs:4,0.276) {***};
\node[font=\fs{7}\bfseries] at (axis cs:5,0.276) {***};
\node[font=\fs{7}\bfseries] at (axis cs:6,0.276) {***};
\node[font=\fs{7}\bfseries] at (axis cs:7,0.276) {***};
\node[font=\fs{7}\bfseries] at (axis cs:8,0.276) {***};
\node[font=\fs{7}\bfseries] at (axis cs:9,0.276) {***};
\node[font=\fs{7}\bfseries] at (axis cs:10,0.276) {***};
\end{axis}

% ================= Panel F
\begin{axis}[gg, at={(272pt,-845pt)}, width=151pt, height=88pt,
  x dir=reverse, xmin=-0.3, xmax=0.006, ymin=-0.6, ymax=2.6, y dir=reverse,
  xtick={0,-0.1,-0.2,-0.3}, xticklabels={0.0,−0.1,−0.2,−0.3}, minor xtick={-0.05,-0.15,-0.25},
  ytick={0,1,2}, yticklabels={SB−743921,paclitaxel,BI−2536},
  yticklabel style={font=\fs{7.5}\itshape, text=black!70},
  xlabel={Correlation coefficient}, xlabel style={yshift=2pt}]
\addplot[xcomb, black, dashed, line width=0.6pt] coordinates {(-0.274,0) (-0.268,1) (-0.254,2)};
\addplot[dotA] table[x=x,y=y,meta=c] {
x y s c
-0.274 0 6.5 D
-0.268 1 5.5 D
-0.254 2 2 D
};
\end{axis}

% ================= Panel G
\begin{axis}[gg, at={(484pt,-845pt)}, width=199pt, height=86pt,
  xmin=-0.55, xmax=2.55, ymin=0.0555, ymax=0.467, boxplot/draw direction=y,
  xtick={0,1,2}, xticklabels={BI−2536,paclitaxel,SB−743921},
  xticklabel style={rotate=45, anchor=north east, font=\fs{8}\itshape, text=black!70, inner sep=1pt},
  ytick={0.1,0.2,0.3,0.4}, yticklabels={0.1,0.2,0.3,0.4}, minor ytick={0.15,0.25,0.35,0.45},
  minor xtick={0.5,1.5},
  ylabel={Estimated AUC value}, ylabel style={font=\fs{8.5}\bfseries\itshape, yshift=-3pt}]
\addplot[hi, boxplot prepared={draw position=-0.19, lower whisker=0.14, lower quartile=0.209, median=0.241, upper quartile=0.265, upper whisker=0.34, box extend=0.34, whisker extend=0}] coordinates {};
\addplot[lo, boxplot prepared={draw position=0.19, lower whisker=0.169, lower quartile=0.247, median=0.281, upper quartile=0.305, upper whisker=0.334, box extend=0.34, whisker extend=0}] coordinates {};
\addplot[hi, boxplot prepared={draw position=0.81, lower whisker=0.116, lower quartile=0.191, median=0.225, upper quartile=0.261, upper whisker=0.357, box extend=0.34, whisker extend=0}] coordinates {};
\addplot[lo, boxplot prepared={draw position=1.19, lower whisker=0.18, lower quartile=0.239, median=0.279, upper quartile=0.304, upper whisker=0.38, box extend=0.34, whisker extend=0}] coordinates {};
\addplot[hi, boxplot prepared={draw position=1.81, lower whisker=0.076, lower quartile=0.137, median=0.172, upper quartile=0.233, upper whisker=0.329, box extend=0.34, whisker extend=0}] coordinates {};
\addplot[lo, boxplot prepared={draw position=2.19, lower whisker=0.116, lower quartile=0.201, median=0.236, upper quartile=0.276, upper whisker=0.352, box extend=0.34, whisker extend=0}] coordinates {};
\node[font=\fs{7}\bfseries] at (axis cs:0,0.405) {***};
\node[font=\fs{7}\bfseries] at (axis cs:1,0.405) {***};
\node[font=\fs{7}\bfseries] at (axis cs:2,0.405) {***};
\end{axis}

% ================= Overlay: panel labels and legends
\begin{axis}[at={(0pt,0pt)}, anchor=north west, scale only axis, width=709pt, height=999pt,
  xmin=0, xmax=709, ymin=0, ymax=999, y dir=reverse, hide axis, clip=false]
\node[anchor=west, font=\fs{10}\bfseries] at (1,8) {(A)};
\node[anchor=west, font=\fs{10}] at (1,340) {(B)};
\node[anchor=west, font=\fs{10}] at (1,508) {(C)};
\node[anchor=west, font=\fs{10}\bfseries] at (1,686) {(D)};
\node[anchor=west, font=\fs{10}\bfseries] at (214,686) {(E)};
\node[anchor=west, font=\fs{10}\bfseries] at (214,850) {(F)};
\node[anchor=west, font=\fs{10}\bfseries] at (436,836) {(G)};
% legend A
\draw[rounded corners=9pt, line width=0.8pt] (82,256) rectangle (640,331);
\fill[keyg] (145,259) rectangle (161,275);
\fill[keyg] (204,259) rectangle (220,275);
\fill[keyg] (145,285) rectangle (161,301);
\fill[keyg] (204,285) rectangle (220,301);
\fill[keyg] (361,258) rectangle (379,276);
\fill[keyg] (399,257) rectangle (419,277);
\fill[keyg] (360,283) rectangle (380,303);
\fill[keyg] (399,283) rectangle (419,303);
\fill[keyg] (524,259) rectangle (540,275);
\fill[keyg] (579,259) rectangle (595,275);
\fill[keyg] (524,285) rectangle (540,301);
\fill[keyg] (579,285) rectangle (595,301);
\fill[keyg] (155,981) rectangle (173,999);
\fill[keyg] (320,965) rectangle (336,981);
\fill[keyg] (349,964) rectangle (367,982);
\fill[keyg] (378,963) rectangle (398,983);
\fill[keyg] (409,962) rectangle (431,984);
\addplot[dotA] table[x=x,y=y,meta=c] {
x y s c
153 267 2.3 N1
212 267 2.3 N2
153 293 2.3 N3
212 293 2.3 N4
370 267 2.5 K
409 267 4.5 K
370 293 5.5 K
409 293 6.5 K
532 267 2.3 P1
587 267 2.3 P2
532 293 2.3 P3
587 293 2.3 P4
164 990 5.5 D
328 973 2.5 D
358 973 4 D
388 973 5.5 D
420 973 7 D
};
\node[anchor=west, font=\fs{8.5}] at (89,264) {Negtive};
\node[anchor=west, font=\fs{8.5}] at (89,276.5) {correlation};
\node[anchor=west, font=\fs{8.5}] at (89,289) {p-value};
\node[anchor=west, font=\fs{7.5}\bfseries\itshape] at (163,267) {<0.0001};
\node[anchor=west, font=\fs{7.5}\bfseries\itshape] at (222,267) {<0.001};
\node[anchor=west, font=\fs{7.5}\bfseries\itshape] at (163,293) {<0.01};
\node[anchor=west, font=\fs{7.5}\bfseries\itshape] at (222,293) {<0.05};
\node[anchor=west, font=\fs{8.5}\bfseries\itshape] at (292,267) {Spearman's p};
\node[anchor=west, font=\fs{7.5}\bfseries\itshape] at (381,267) {0.1};
\node[anchor=west, font=\fs{7.5}\bfseries\itshape] at (421,267) {0.2};
\node[anchor=west, font=\fs{7.5}\bfseries\itshape] at (381,293) {0.3};
\node[anchor=west, font=\fs{7.5}\bfseries\itshape] at (421,293) {0.4};
\node[anchor=west, font=\fs{8.5}] at (466,264) {Positive};
\node[anchor=west, font=\fs{8.5}] at (466,276.5) {correlation};
\node[anchor=west, font=\fs{8.5}] at (466,289) {p-value};
\node[anchor=west, font=\fs{7.5}\bfseries\itshape] at (542,267) {<0.0001};
\node[anchor=west, font=\fs{7.5}\bfseries\itshape] at (597,267) {<0.001};
\node[anchor=west, font=\fs{7.5}\bfseries\itshape] at (542,293) {<0.01};
\node[anchor=west, font=\fs{7.5}\bfseries\itshape] at (597,293) {<0.05};
% legend D
\node[anchor=east, font=\fs{7.5}] at (154,990) {−log\textsubscript{10} ( \textit{P} −value)};
\node[anchor=west, font=\fs{7}\bfseries\itshape] at (174,990) {10};
% legend F
\node[anchor=east, font=\fs{7.5}] at (319,973) {−log\textsubscript{10} ( \textit{P} −value)};
\node[anchor=west, font=\fs{7}\bfseries\itshape] at (336,973) {8.4};
\node[anchor=west, font=\fs{7}\bfseries\itshape] at (367,973) {8.7};
\node[anchor=west, font=\fs{7}\bfseries\itshape] at (398,973) {9.0};
% legend G
\node[anchor=west, font=\fs{9}\bfseries\itshape] at (485,983) {group};
\draw[HiB, line width=0.8pt] (524.5,972) -- (524.5,994);
\fill[HiB] (517,977) rectangle (532,989);
\draw[HiM, line width=0.7pt] (517,983) -- (532,983);
\node[anchor=west, font=\fs{7.5}\bfseries\itshape] at (535,983) {High LPAS};
\draw[LoB, line width=0.8pt] (600.5,972) -- (600.5,994);
\fill[LoB] (593,977) rectangle (608,989);
\draw[LoM, line width=0.7pt] (593,983) -- (608,983);
\node[anchor=west, font=\fs{7.5}\bfseries\itshape] at (611,983) {Low LPAS};
\end{axis}
\end{tikzpicture}
\end{document}
